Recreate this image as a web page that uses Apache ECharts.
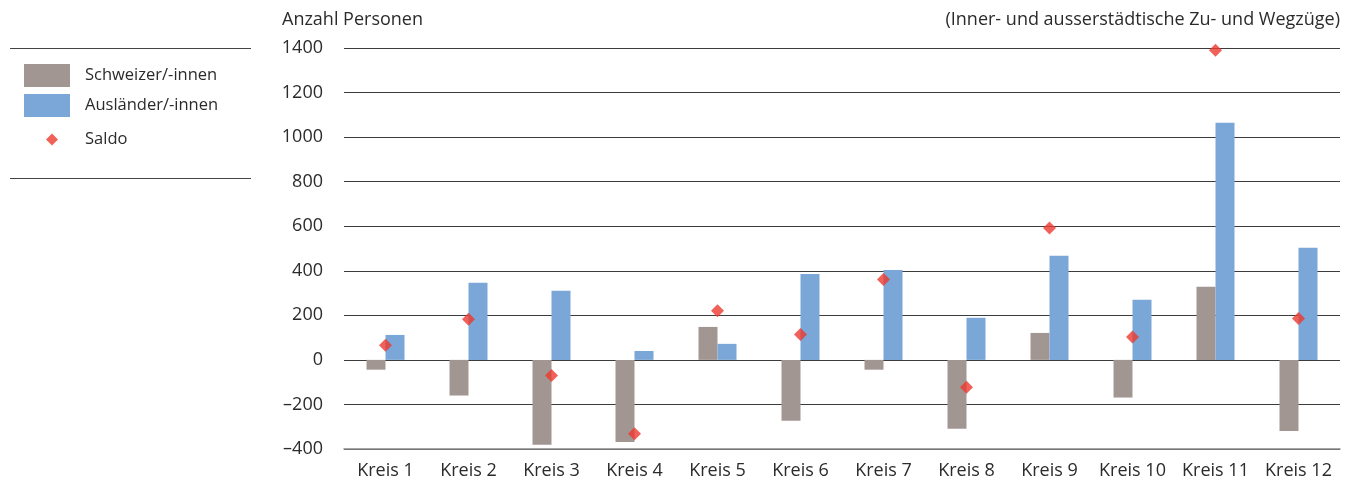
<!DOCTYPE html>
<html>
<head>
<meta charset="utf-8">
<script src="https://cdn.jsdelivr.net/npm/echarts@6/dist/echarts.min.js"></script>
<style>
  html, body { margin: 0; padding: 0; background: #fff; }
  #chart { width: 1357px; height: 493px; }
</style>
</head>
<body>
<div id="chart"></div>
<script>
// Wanderungssaldo nach Stadtkreis
const categories = ['Kreis 1', 'Kreis 2', 'Kreis 3', 'Kreis 4', 'Kreis 5', 'Kreis 6',
                    'Kreis 7', 'Kreis 8', 'Kreis 9', 'Kreis 10', 'Kreis 11', 'Kreis 12'];
const schweizer = [-44, -160, -381, -369, 148, -273, -44, -309, 121, -169, 328, -319];
const auslaender = [112, 346, 310, 40, 72, 386, 404, 189, 467, 270, 1065, 503];
const saldo = [66, 182, -70, -331, 221, 114, 361, -123, 592, 103, 1390, 186];

const FONT = '"Open Sans", "Noto Sans", sans-serif';
const TEXT = '#2b2b2b';

const chart = echarts.init(document.getElementById('chart'), null, { renderer: 'canvas' });

chart.setOption({
  animation: false,
  backgroundColor: '#fff',
  textStyle: { fontFamily: FONT },
  grid: { left: 344, right: 17, top: 48, bottom: 44, containLabel: false },
  title: [
    { text: 'Anzahl Personen', left: 282, top: 11, padding: 0,
      textStyle: { fontFamily: FONT, fontSize: 18, fontWeight: 'normal', color: TEXT } },
    { text: '(Inner- und ausserstädtische Zu- und Wegzüge)', right: 17, top: 11, padding: 0,
      textStyle: { fontFamily: FONT, fontSize: 18, fontWeight: 'normal', color: TEXT } }
  ],
  legend: [
    {
      data: ['Schweizer/-innen', 'Ausländer/-innen'],
      orient: 'vertical', left: 24, top: 64, padding: 0,
      itemWidth: 46, itemHeight: 23, itemGap: 7,
      icon: 'rect',
      selectedMode: false,
      textStyle: { fontFamily: FONT, fontSize: 16.5, color: TEXT, padding: [0, 0, 0, 10] }
    },
    {
      data: ['Saldo'],
      orient: 'vertical', left: 46, top: 131, padding: 0,
      itemWidth: 12, itemHeight: 12,
      icon: 'diamond',
      selectedMode: false,
      textStyle: { fontFamily: FONT, fontSize: 16.5, color: TEXT, padding: [0, 0, 0, 22] }
    }
  ],
  graphic: [
    { type: 'line', shape: { x1: 10, y1: 48.5, x2: 251, y2: 48.5 }, style: { stroke: '#444', lineWidth: 1 } },
    { type: 'line', shape: { x1: 10, y1: 178.5, x2: 251, y2: 178.5 }, style: { stroke: '#444', lineWidth: 1 } }
  ],
  xAxis: {
    type: 'category',
    data: categories,
    axisLine: { onZero: false, lineStyle: { color: '#8a8a8a', width: 1.5 } },
    axisTick: { show: false },
    axisLabel: { fontFamily: FONT, fontSize: 18, color: TEXT, margin: 13, interval: 0, hideOverlap: false }
  },
  yAxis: {
    type: 'value',
    min: -400, max: 1400, interval: 200,
    axisLine: { show: false },
    axisTick: { show: false },
    axisLabel: {
      fontFamily: FONT, fontSize: 18, color: TEXT, margin: 21,
      formatter: v => v < 0 ? '\u2013' + Math.abs(v) : String(v)
    },
    splitLine: { lineStyle: { color: '#3c3c3c', width: 1.2 } }
  },
  series: [
    {
      name: 'Schweizer/-innen', type: 'bar', data: schweizer,
      barWidth: 19, barGap: '0%',
      itemStyle: { color: '#a29692' }
    },
    {
      name: 'Ausländer/-innen', type: 'bar', data: auslaender,
      barWidth: 19, barGap: '0%',
      itemStyle: { color: '#7ba7d8' }
    },
    {
      name: 'Saldo', type: 'scatter', data: saldo,
      symbol: 'diamond', symbolSize: 13,
      itemStyle: { color: '#ec3a2f' },
      z: 5
    }
  ]
});
</script>
</body>
</html>
